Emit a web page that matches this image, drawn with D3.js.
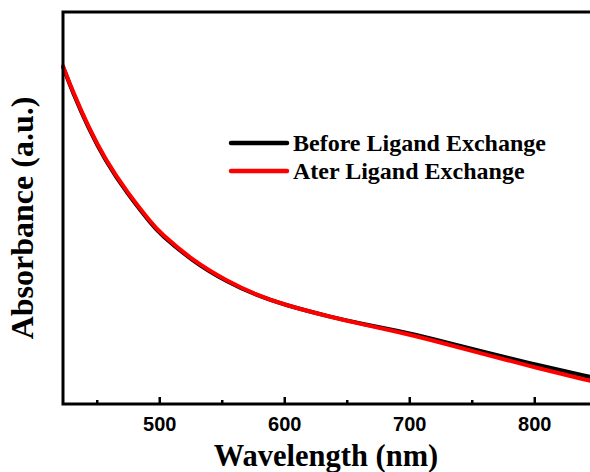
<!DOCTYPE html>
<html>
<head>
<meta charset="utf-8">
<script src="https://cdn.jsdelivr.net/npm/d3@7"></script>
<style>
  html, body { margin: 0; padding: 0; background: #fff; }
  svg { display: block; }
</style>
</head>
<body>
<svg id="chart" width="590" height="472"></svg>
<script>
// Data (arbitrary absorbance units)
const wavelengths = [423, 431, 443, 456.6, 474, 495, 500, 527, 554, 578, 600, 637, 663, 690, 717, 759, 802, 845];
const beforeValues = [0.860, 0.793, 0.706, 0.622, 0.538, 0.454, 0.436, 0.363, 0.312, 0.277, 0.253, 0.222, 0.204, 0.187, 0.168, 0.133, 0.100, 0.069];
const afterValues  = [0.862, 0.796, 0.709, 0.625, 0.541, 0.457, 0.439, 0.365, 0.314, 0.278, 0.253, 0.222, 0.203, 0.185, 0.164, 0.128, 0.092, 0.059];
const seriesNames = ["Before Ligand Exchange", "Ater Ligand Exchange"];
const seriesColors = ["#000000", "#ff0000"];
const majorTicks = [500, 600, 700, 800];
const minorTicks = [450, 550, 650, 750];

(function () {
const svg = d3.select("#chart");
const mLeft = 63, mTop = 12, mBottom = 404;
const x = d3.scaleLinear().domain([423, 845]).range([mLeft, 590.5]);
const y = d3.scaleLinear().domain([0, 1]).range([mBottom, mTop]);

const serif = "'Liberation Serif', 'Times New Roman', serif";
const sans = "'Liberation Sans', Arial, sans-serif";

// Curves
const line = d3.line().x(d => x(d[0])).y(d => y(d[1])).curve(d3.curveBasis);
[beforeValues, afterValues].forEach((vals, i) => {
  svg.append("path")
    .datum(wavelengths.map((w, j) => [w, vals[j]]))
    .attr("fill", "none")
    .attr("stroke", seriesColors[i])
    .attr("stroke-width", 4)
    .attr("stroke-linejoin", "round")
    .attr("stroke-linecap", "round")
    .attr("d", line);
});

// Frame
svg.append("rect")
  .attr("x", mLeft).attr("y", mTop)
  .attr("width", 600 - mLeft).attr("height", mBottom - mTop)
  .attr("fill", "none").attr("stroke", "#000").attr("stroke-width", 3);

// Bottom axis: inward ticks
const xAxis = d3.axisBottom(x).tickValues(majorTicks).tickSize(-7).tickPadding(13).tickFormat(d3.format("d"));
const gx = svg.append("g").attr("transform", `translate(0,${mBottom})`).call(xAxis);
gx.select(".domain").remove();
gx.selectAll(".tick line").attr("stroke", "#000").attr("stroke-width", 2.5);
gx.selectAll(".tick text")
  .attr("font-family", sans).attr("font-weight", "bold").attr("font-size", 20).attr("fill", "#000")
  .attr("dy", "0.71em");
const xMinor = d3.axisBottom(x).tickValues(minorTicks).tickSize(-4).tickFormat("");
const gm = svg.append("g").attr("transform", `translate(0,${mBottom})`).call(xMinor);
gm.select(".domain").remove();
gm.selectAll(".tick line").attr("stroke", "#000").attr("stroke-width", 2.5);

// Axis titles
svg.append("text")
  .attr("x", 326).attr("y", 466)
  .attr("text-anchor", "middle")
  .attr("font-family", serif).attr("font-weight", "bold").attr("font-size", 30.5)
  .text("Wavelength (nm)");
svg.append("text")
  .attr("transform", "translate(33,218) rotate(-90)")
  .attr("text-anchor", "middle")
  .attr("font-family", serif).attr("font-weight", "bold").attr("font-size", 32)
  .text("Absorbance (a.u.)");

// Legend
const legendY = [143, 171];
seriesNames.forEach((name, i) => {
  svg.append("line")
    .attr("x1", 231).attr("x2", 287)
    .attr("y1", legendY[i]).attr("y2", legendY[i])
    .attr("stroke", seriesColors[i]).attr("stroke-width", 4.5).attr("stroke-linecap", "round");
  svg.append("text")
    .attr("x", 293).attr("y", legendY[i] + 7.5)
    .attr("font-family", serif).attr("font-weight", "bold").attr("font-size", 24)
    .attr("fill", "#000")
    .text(name);
});
})();
</script>
</body>
</html>
